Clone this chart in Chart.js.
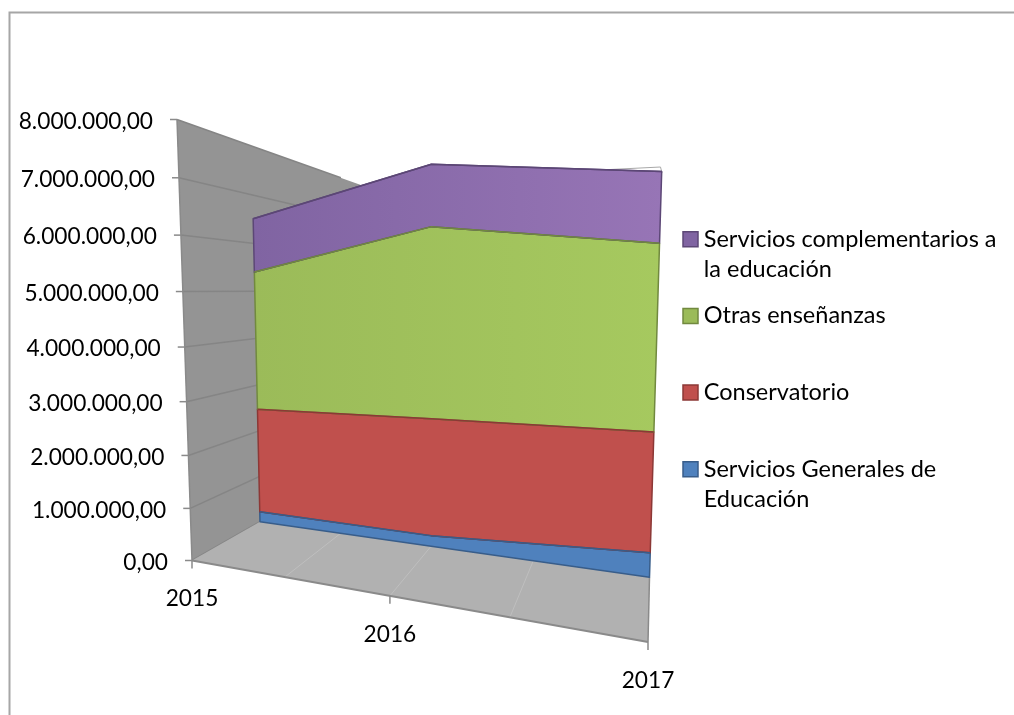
<!DOCTYPE html>
<html><head><meta charset="utf-8">
<style>html,body{margin:0;padding:0;background:#fff;overflow:hidden}canvas{display:block}</style>
<script src="https://cdn.jsdelivr.net/npm/chart.js@4"></script>
</head><body>
<canvas id="c" width="1014" height="715"></canvas>
<script>
const categories = ['2015', '2016', '2017'];
const serviciosGenerales = [223000, 210000, 433000];
const conservatorio = [2254000, 2297000, 2085000];
const otrasEnsenanzas = [2927000, 3625000, 3129000];
const serviciosComplementarios = [1109000, 1139000, 1150000];
const seriesNames = ['Servicios Generales de Educación', 'Conservatorio', 'Otras enseñanzas', 'Servicios complementarios a la educación'];
const legendLines = [['Servicios Generales de', 'Educación'], ['Conservatorio', ''], ['Otras enseñanzas', ''], ['Servicios complementarios a', 'la educación']];
const yMax = 8000000, yStep = 1000000;

const FONT = 'Lato, Carlito, Calibri, sans-serif', AXIS_SIZE = 22.7, LEGEND_SIZE = 23.5;
const plane = { p00: [260, 521.7], p10: [649.5, 577.3], p01: [251.5, 146], p11: [664, 95] };
const nearEdge = { bottom: [192, 560.5], top: [177, 119.5], kb: 1.066, kt: 1 };
const floorFront = { left: [192, 560.5], right: [648, 642], kl: 1.304, kr: 1 };

function solvePlane() {
  const [a, b, c, d] = [plane.p00, plane.p10, plane.p01, plane.p11];
  const a1 = a[0] - c[0], b1 = b[0] - c[0], r1 = d[0] - c[0];
  const a2 = a[1] - c[1], b2 = b[1] - c[1], r2 = d[1] - c[1];
  const det = a1 * b2 - a2 * b1;
  const ka = (r1 * b2 - r2 * b1) / det, kb = (a1 * r2 - a2 * r1) / det, kc = 1 - ka - kb;
  return { k0: -ka, k1: kb, k2: kc };
}
const K = solvePlane();
function planePoint(s, t) {
  const w0 = K.k0 * (1 - s - t), w1 = K.k1 * s, w2 = K.k2 * t;
  const w = w0 + w1 + w2;
  return [(w0 * plane.p00[0] + w1 * plane.p10[0] + w2 * plane.p01[0]) / w,
          (w0 * plane.p00[1] + w1 * plane.p10[1] + w2 * plane.p01[1]) / w];
}
function weighted(a, ka, b, kb, u) {
  const wa = ka * (1 - u), wb = kb * u, w = wa + wb;
  return [(wa * a[0] + wb * b[0]) / w, (wa * a[1] + wb * b[1]) / w];
}
const nearPoint = t => weighted(nearEdge.bottom, nearEdge.kb, nearEdge.top, nearEdge.kt, t);
const frontPoint = s => weighted(floorFront.left, floorFront.kl, floorFront.right, floorFront.kr, s);
const extend = (a, b, k) => [a[0] + (b[0] - a[0]) * k, a[1] + (b[1] - a[1]) * k];

function poly(ctx, pts) {
  ctx.beginPath();
  pts.forEach((p, i) => i ? ctx.lineTo(p[0], p[1]) : ctx.moveTo(p[0], p[1]));
}
function seg(ctx, a, b, color, width) {
  ctx.strokeStyle = color; ctx.lineWidth = width;
  ctx.beginPath(); ctx.moveTo(a[0], a[1]); ctx.lineTo(b[0], b[1]); ctx.stroke();
}

const perspective = {
  id: 'perspective',
  afterLayout(chart) {
    const lg = chart.legend;
    lg.left = 689 - lg.options.labels.padding; lg.top = 227.5 - lg.options.labels.padding;
    lg.right = 1014; lg.bottom = 715;
  },
  afterDatasetsUpdate(chart) {
    const a = chart.chartArea;
    chart.getSortedVisibleDatasetMetas().forEach(meta => {
      meta.data.forEach(el => {
        const s = (el.x - a.left) / (a.right - a.left), t = (a.bottom - el.y) / (a.bottom - a.top);
        const p = planePoint(s, t);
        el.x = p[0]; el.y = p[1];
      });
    });
  },
  beforeDatasetsDraw(chart) {
    const ctx = chart.ctx, { x, y } = chart.scales;
    ctx.save();
    // outer frame
    ctx.strokeStyle = '#a6a6a6'; ctx.lineWidth = 2;
    poly(ctx, [[9.5, 716], [9.5, 12.5], [1015, 12.5]]); ctx.stroke();

    // back wall sliver
    seg(ctx, [600, 170], [660.5, 167], '#a8a8a8', 1);
    seg(ctx, [660.5, 167], [662, 173], '#a8a8a8', 1);

    // side wall
    const depth = 2.6;
    const nb = nearPoint(0), nt = nearPoint(1);
    ctx.fillStyle = '#949494';
    poly(ctx, [nt, nb, extend(nb, planePoint(0, 0), depth), extend(nt, planePoint(0, 1), depth)]);
    ctx.closePath(); ctx.fill();

    // value gridlines, ticks, labels
    ctx.font = AXIS_SIZE + 'px ' + FONT; ctx.textAlign = 'right'; ctx.textBaseline = 'middle';
    y.ticks.forEach(tick => {
      const t = tick.value / yMax, n = nearPoint(t);
      seg(ctx, n, extend(n, planePoint(0, t), 2.2), '#858585', 1.5);
      seg(ctx, [n[0] - 7, n[1]], n, '#8a8a8a', 1.5);
      ctx.fillStyle = '#000';
      ctx.fillText(tick.label, n[0] - 24, n[1] + 2);
    });
    seg(ctx, nt, nb, '#8a8a8a', 1.5);

    // floor
    ctx.fillStyle = '#b1b1b1';
    poly(ctx, [floorFront.left, floorFront.right, plane.p10, plane.p00]);
    ctx.closePath(); ctx.fill();
    [0.25, 0.5, 0.75].forEach(s => seg(ctx, frontPoint(s), planePoint(s, 0), '#bfbfbf', 1));
    seg(ctx, floorFront.left, floorFront.right, '#8a8a8a', 1.8);
    seg(ctx, floorFront.right, plane.p10, '#8a8a8a', 1.5);

    // category ticks and labels
    ctx.textAlign = 'center';
    x.ticks.forEach((tick, i) => {
      const s = i / (x.ticks.length - 1), p = frontPoint(s);
      seg(ctx, p, [p[0], p[1] + 8], '#8a8a8a', 1.5);
      ctx.fillStyle = '#000';
      ctx.fillText(tick.label, p[0], p[1] + 38.5);
    });

    // area fills: each band runs from the series below to this series' projected points
    const metas = chart.data.datasets.map((d, i) => chart.getDatasetMeta(i));
    metas.forEach((meta, i) => {
      const top = meta.data.map(e => [e.x, e.y]);
      const below = i ? metas[i - 1].data.map(e => [e.x, e.y])
                      : meta.data.map((e, j) => planePoint(j / (meta.data.length - 1), 0));
      poly(ctx, top.concat(below.reverse()));
      ctx.closePath();
      ctx.fillStyle = chart.data.datasets[i].areaFill || chart.data.datasets[i].backgroundColor;
      ctx.fill();
      ctx.strokeStyle = chart.data.datasets[i].borderColor;
      ctx.lineWidth = 1.5; ctx.lineJoin = 'round';
      ctx.stroke();
    });
    ctx.restore();
  }
};

const cv = document.getElementById('c');
const gctx = cv.getContext('2d');
function sideGradient(from, to) {
  const g = gctx.createLinearGradient(253, 0, 663, 0);
  g.addColorStop(0, from); g.addColorStop(1, to);
  return g;
}
const base = { tension: 0, pointRadius: 0, borderWidth: 1.5, clip: false, fill: false };
new Chart(gctx, {
  type: 'line',
  data: {
    labels: categories,
    datasets: [
      { ...base, label: seriesNames[0], data: serviciosGenerales, backgroundColor: '#4f81bd', borderColor: '#385d8a' },
      { ...base, label: seriesNames[1], data: conservatorio, backgroundColor: '#c0504d', borderColor: '#8c3836' },
      { ...base, label: seriesNames[2], data: otrasEnsenanzas, backgroundColor: '#9bbb59', borderColor: '#71893f',
        areaFill: sideGradient('#9bbb59', '#a6c95f') },
      { ...base, label: seriesNames[3], data: serviciosComplementarios, backgroundColor: '#8064a2', borderColor: '#5c4776',
        areaFill: sideGradient('#8064a2', '#9775b6') }
    ]
  },
  plugins: [perspective],
  options: {
    responsive: false, animation: false, events: [],
    layout: { padding: { left: 190, top: 120, bottom: 75, right: 0 } },
    scales: {
      x: { display: false, offset: false },
      y: { display: false, stacked: true, min: 0, max: yMax,
           ticks: { stepSize: yStep, callback: v => v.toFixed(2).replace(/\B(?=(\d{3})+(?!\d))/g, '.').replace(/\.(\d\d)$/, ',$1') } }
    },
    plugins: {
      tooltip: { enabled: false },
      title: { display: false },
      legend: {
        position: 'right', align: 'start', reverse: true,
        labels: {
          usePointStyle: true, boxWidth: 3, boxHeight: 15, padding: 16.67, color: '#000',
          font: { family: FONT, size: LEGEND_SIZE, lineHeight: '30px' },
          generateLabels(chart) {
            return chart.data.datasets.map((d, i) => ({
              text: legendLines[i], fillStyle: d.backgroundColor, strokeStyle: d.borderColor,
              lineWidth: 1.5, pointStyle: 'rect', datasetIndex: i, hidden: false, fontColor: '#000'
            }));
          }
        }
      }
    }
  }
});
</script>
</body></html>
